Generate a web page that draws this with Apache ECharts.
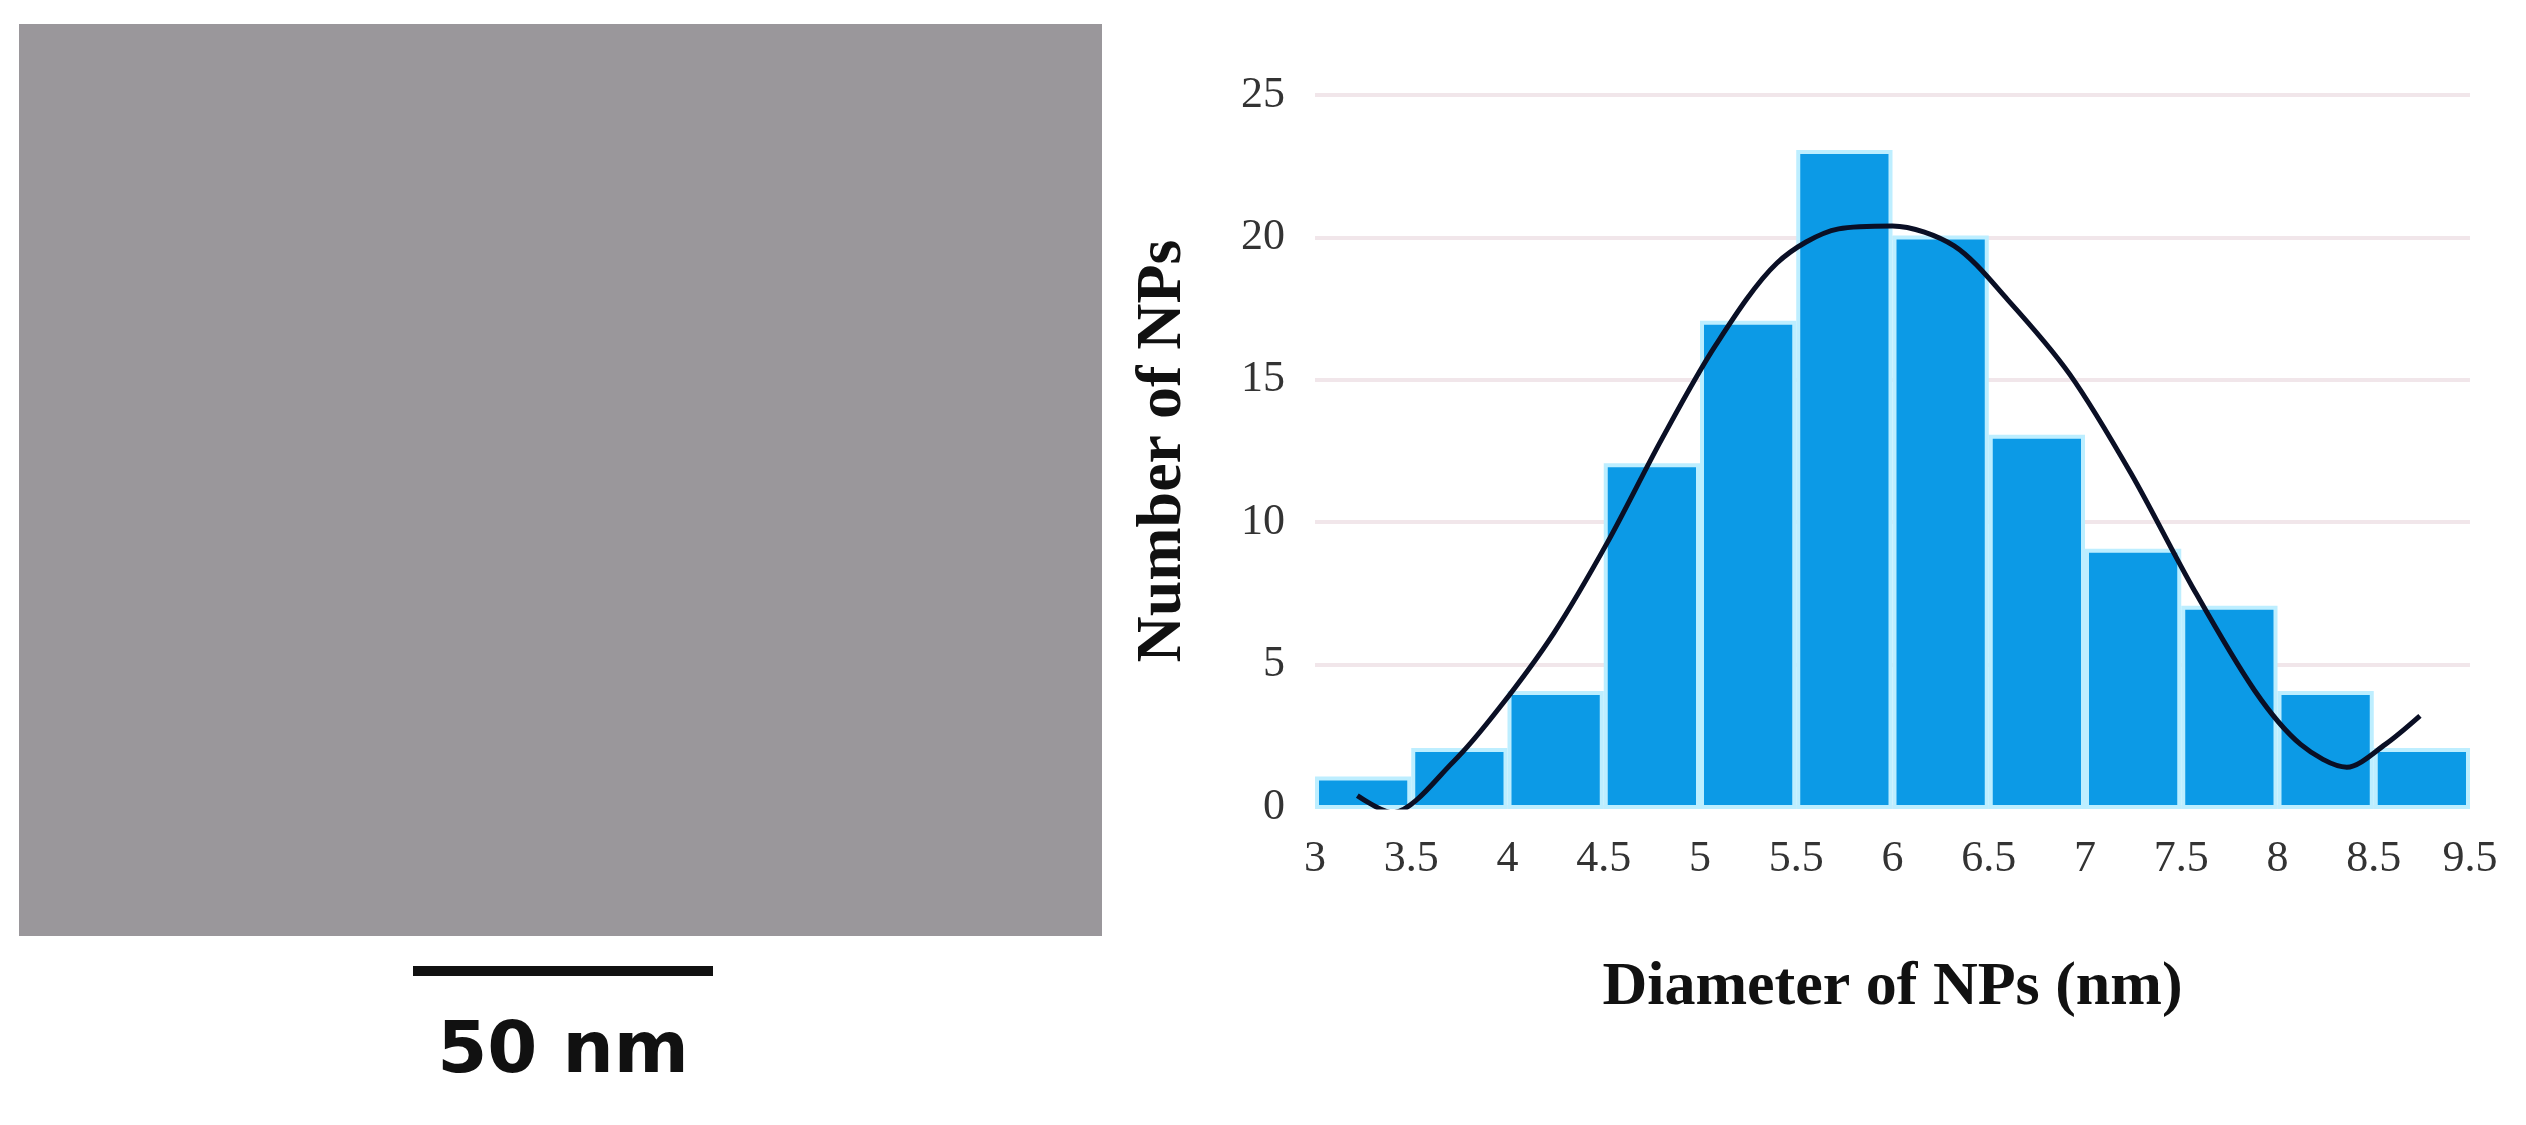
<!DOCTYPE html>
<html><head><meta charset="utf-8">
<script src="https://cdn.jsdelivr.net/npm/echarts@6/dist/echarts.min.js"></script>
<style>html,body{margin:0;padding:0;background:#fff}#c{width:2526px;height:1125px}</style>
</head><body><div id="c"></div>
<script>
// Bin boundary tick labels (as printed in the figure)
const tickLabels = ['3','3.5','4','4.5','5','5.5','6','6.5','7','7.5','8','8.5','9.5'];
// Histogram counts per bin
const counts = [1,2,4,12,17,23,20,13,9,7,4,2];
// Fitted curve points [bin position, value]
const curveX = [0.44,0.8,1.44,1.92,2.48,3.04,3.6,4.16,4.8,5.44,6.0,6.64,7.2,7.84,8.48,9.12,9.76,10.24,10.72,11.12,11.48];
const curveY = [0.4,-0.2,1.6,3.5,6.1,9.3,12.9,16.2,19.1,20.3,20.4,19.7,17.8,15.2,11.7,7.7,4.1,2.2,1.4,2.2,3.2];

const chart = echarts.init(document.getElementById('c'));
const serif = '"Liberation Serif","DejaVu Serif",serif';
chart.setOption({
  backgroundColor:'#fff',
  animation:false,
  grid:{left:1315,right:56,top:95,bottom:318},
  xAxis:{type:'value',min:0,max:12,interval:1,
    axisLine:{show:false},axisTick:{show:false},splitLine:{show:false},
    axisLabel:{formatter:v=>tickLabels[v]||'',fontFamily:serif,fontSize:44,color:'#333',margin:30},
    name:'Diameter of NPs (nm)',nameLocation:'middle',nameGap:150,
    nameTextStyle:{fontFamily:serif,fontWeight:'bold',fontSize:62,color:'#111'}},
  yAxis:{type:'value',min:0,max:25,interval:5,
    axisLine:{show:false},axisTick:{show:false},
    splitLine:{lineStyle:{color:'#f1e6ea',width:4}},
    axisLabel:{fontFamily:serif,fontSize:44,color:'#333',margin:30},
    name:'Number of NPs',nameLocation:'middle',nameGap:120,nameRotate:90,
    nameTextStyle:{fontFamily:serif,fontWeight:'bold',fontSize:64,color:'#111'}},
  series:[
    {type:'custom',
     renderItem:(params,api)=>{
       const i=api.value(0),v=api.value(1);
       const p0=api.coord([i,v]),p1=api.coord([i+1,0]);
       return {type:'rect',shape:{x:p0[0]+2,y:p0[1],width:p1[0]-p0[0]-4,height:p1[1]-p0[1]},
         style:{fill:'#0c9ae6',stroke:'#bdeeff',lineWidth:4}};
     },
     data:counts.map((c,i)=>[i,c])},
    {type:'line',smooth:0.3,symbol:'none',
     lineStyle:{color:'#0a0f25',width:5},
     data:curveX.map((x,i)=>[x,curveY[i]]),z:5}
  ],
  graphic:[
    {type:'rect',shape:{x:19,y:24,width:1083,height:912},style:{fill:'#9a979b'}},
    {type:'rect',shape:{x:413,y:966,width:300,height:10},style:{fill:'#111'}},
    {type:'text',x:563,y:1053,style:{text:'50 nm',font:'bold 72px "DejaVu Sans",sans-serif',fill:'#111',align:'center',verticalAlign:'middle'}}
  ]
});
</script></body></html>
